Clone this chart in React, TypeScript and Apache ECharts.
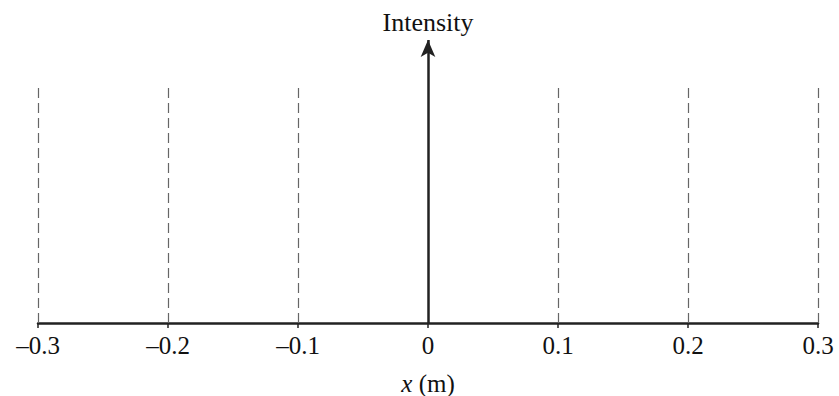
import React, { useEffect, useRef } from "react";
import * as echarts from "echarts";

const xTicks = [-0.3, -0.2, -0.1, 0, 0.1, 0.2, 0.3];
const dashedPositions = [-0.3, -0.2, -0.1, 0.1, 0.2, 0.3];
const dashedHeight = 0.834;
const arrowHeight = 1;
const yAxisTitle = "Intensity";
const xAxisTitle = "x (m)";

export default function App() {
  const ref = useRef<HTMLDivElement>(null);
  useEffect(() => {
    if (!ref.current) return;
    const chart = echarts.init(ref.current, undefined, { renderer: "svg" });
    const font = "'Liberation Serif', 'Times New Roman', serif";
    chart.setOption({
      animation: false,
      grid: { left: 38, right: 21, top: 40, bottom: 73, outerBoundsMode: "none", containLabel: false },
      xAxis: {
        type: "value",
        min: xTicks[0],
        max: xTicks[xTicks.length - 1],
        interval: 0.1,
        splitLine: { show: false },
        axisLine: { onZero: false, lineStyle: { color: "#222", width: 2.5 } },
        axisTick: { show: true, length: 5, lineStyle: { color: "#222", width: 1.5 } },
        axisLabel: {
          margin: 10,
          fontFamily: font,
          fontSize: 25,
          color: "#111",
          formatter: (v: number) => {
            const r = Math.round(v * 10) / 10;
            if (r === 0) return "0";
            return (r < 0 ? "\u2013" : "") + Math.abs(r).toFixed(1);
          },
        },
        name: "{i|x} (m)",
        nameLocation: "middle",
        nameGap: 48,
        nameTextStyle: {
          fontFamily: font,
          fontSize: 25,
          color: "#111",
          rich: {
            i: { fontStyle: "italic", fontFamily: font, fontSize: 25, color: "#111" },
          },
        },
      },
      yAxis: {
        type: "value",
        min: 0,
        max: arrowHeight,
        show: false,
      },
      series: [
        {
          type: "line",
          data: [],
          markLine: {
            silent: true,
            symbol: ["none", "none"],
            label: { show: false },
            lineStyle: { color: "#666", width: 1.2, type: [10, 5] },
            data: dashedPositions.map((x) => [
              { coord: [x, 0] },
              { coord: [x, dashedHeight] },
            ]),
          },
        },
        {
          type: "line",
          data: [],
          markLine: {
            silent: true,
            symbol: ["none", "arrow"],
            symbolSize: [11, 17],
            label: {
              show: true,
              position: "end",
              formatter: yAxisTitle,
              fontFamily: font,
              fontSize: 26,
              color: "#111",
              distance: 5,
            },
            lineStyle: { color: "#222", width: 2.5, type: "solid" },
            data: [[{ coord: [0, 0] }, { coord: [0, arrowHeight] }]],
          },
        },
      ],
    });
    return () => chart.dispose();
  }, []);
  return <div ref={ref} style={{ width: 839, height: 396, position: "absolute", left: 0, top: 0 }} />;
}
